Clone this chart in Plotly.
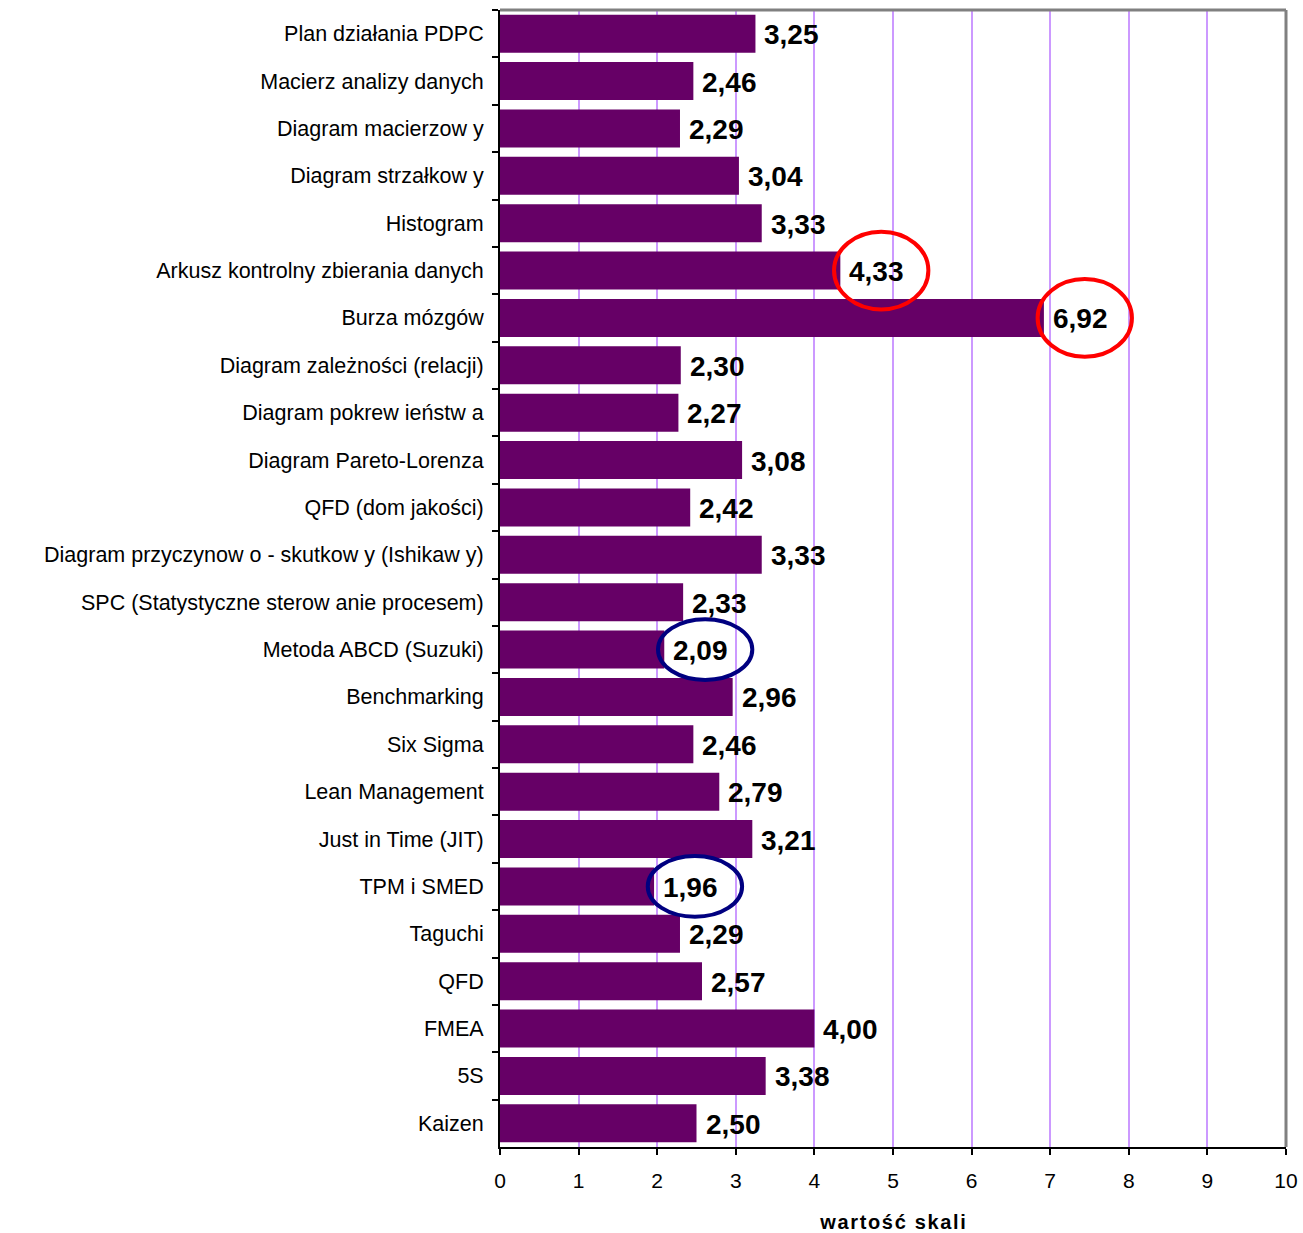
import plotly.graph_objects as go

categories = [
    "Plan działania PDPC",
    "Macierz analizy danych",
    "Diagram macierzow y",
    "Diagram strzałkow y",
    "Histogram",
    "Arkusz kontrolny zbierania danych",
    "Burza mózgów",
    "Diagram zależności (relacji)",
    "Diagram pokrew ieństw a",
    "Diagram Pareto-Lorenza",
    "QFD (dom jakości)",
    "Diagram przyczynow o - skutkow y (Ishikaw y)",
    "SPC (Statystyczne sterow anie procesem)",
    "Metoda ABCD (Suzuki)",
    "Benchmarking",
    "Six Sigma",
    "Lean Management",
    "Just in Time (JIT)",
    "TPM i SMED",
    "Taguchi",
    "QFD",
    "FMEA",
    "5S",
    "Kaizen",
]
values = [3.25, 2.46, 2.29, 3.04, 3.33, 4.33, 6.92, 2.30, 2.27, 3.08, 2.42, 3.33,
          2.33, 2.09, 2.96, 2.46, 2.79, 3.21, 1.96, 2.29, 2.57, 4.00, 3.38, 2.50]
value_labels = [f"{v:.2f}".replace(".", ",") for v in values]

high_items = ["Arkusz kontrolny zbierania danych", "Burza mózgów"]
low_items = ["Metoda ABCD (Suzuki)", "TPM i SMED"]

x_ticks = list(range(0, 11))
x_title = "wartość skali"

FONT = "Liberation Sans, Arial"

fig = go.Figure()
fig.add_trace(go.Bar(
    y=categories, x=values, orientation="h",
    marker=dict(color="#660066", line=dict(width=0)),
    width=0.8,
))

annotations = []
for cat, v, lab in zip(categories, values, value_labels):
    annotations.append(dict(
        x=v, y=cat, xref="x", yref="y", text=lab, showarrow=False,
        xanchor="left", yanchor="middle", xshift=7, yshift=-1,
        font=dict(family=FONT, size=28, color="black", weight="bold"),
    ))

shapes = []
for name in high_items + low_items:
    i = categories.index(name)
    v = values[i]
    high = name in high_items
    half_h = 0.82 if high else 0.64
    shapes.append(dict(
        type="circle", xref="x", yref="y",
        x0=v - 0.08, x1=v + 1.12, y0=i - half_h, y1=i + half_h,
        line=dict(color="#FF0000" if high else "#000080", width=4),
    ))
# grey top/right border
shapes.append(dict(type="line", xref="paper", yref="paper", x0=0, x1=1, y0=1, y1=1,
                   line=dict(color="#808080", width=3)))
shapes.append(dict(type="line", xref="paper", yref="paper", x0=1, x1=1, y0=0, y1=1,
                   line=dict(color="#808080", width=3)))

fig.update_layout(
    width=1303, height=1233,
    margin=dict(l=500, r=17, t=10, b=86),
    plot_bgcolor="white", paper_bgcolor="white",
    showlegend=False, bargap=0.2,
    shapes=shapes, annotations=annotations,
    font=dict(family=FONT, color="black"),
)
fig.update_xaxes(
    range=[0, 10], tickvals=x_ticks, ticktext=[str(t) for t in x_ticks],
    showgrid=True, gridcolor="#CC99FF", gridwidth=2,
    showline=True, linecolor="black", linewidth=2,
    ticks="outside", ticklen=6, tickcolor="black", tickwidth=2,
    tickfont=dict(size=21), zeroline=False, ticklabelstandoff=8,
    automargin=False,
    title=dict(text="\u200a".join(x_title), font=dict(size=20, weight="bold"), standoff=24),
)
fig.update_yaxes(
    autorange="reversed", showgrid=False,
    showline=True, linecolor="black", linewidth=2,
    ticks="outside", ticklen=6, tickcolor="black", tickwidth=2,
    tickson="boundaries", tickfont=dict(size=21.5), ticklabelstandoff=10,
    automargin=False,
)

fig.write_html("out.html")
